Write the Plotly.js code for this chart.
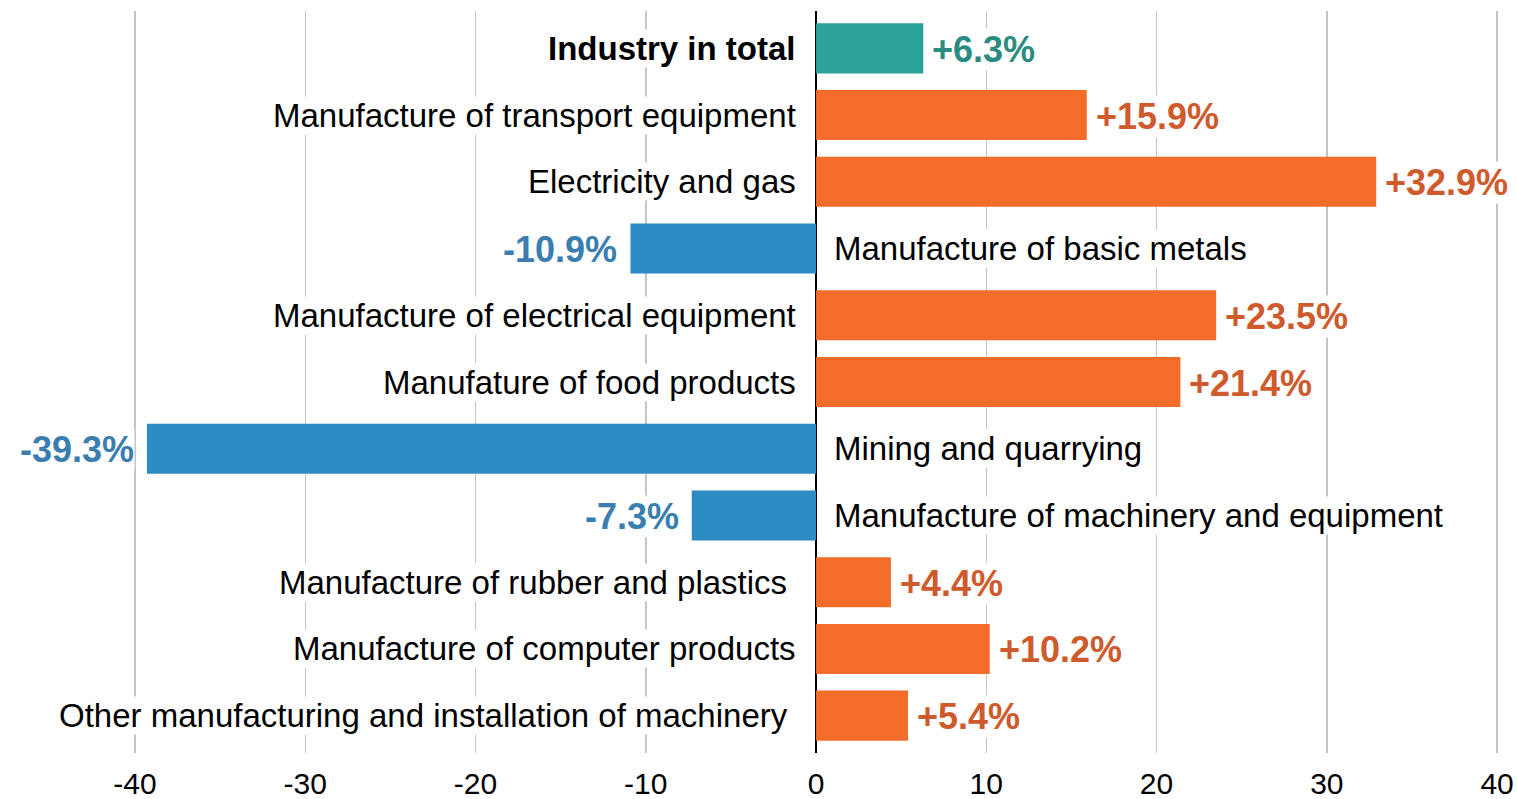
<!DOCTYPE html>
<html>
<head>
<meta charset="utf-8">
<script src="https://cdn.plot.ly/plotly-3.0.1.min.js"></script>
<style>
html,body{margin:0;padding:0;background:#fff;}
#chart{width:1517px;height:799px;}
</style>
</head>
<body>
<div id="chart"></div>
<script>
const categories = [
  "Industry in total",
  "Manufacture of transport equipment",
  "Electricity and gas",
  "Manufacture of basic metals",
  "Manufacture of electrical equipment",
  "Manufature of food products",
  "Mining and quarrying",
  "Manufacture of machinery and equipment",
  "Manufacture of rubber and plastics\u00a0",
  "Manufacture of computer products",
  "Other manufacturing and installation of machinery\u00a0"
];
const values = [6.3, 15.9, 32.9, -10.9, 23.5, 21.4, -39.3, -7.3, 4.4, 10.2, 5.4];
const valueLabels = ["+6.3%", "+15.9%", "+32.9%", "-10.9%", "+23.5%", "+21.4%", "-39.3%", "-7.3%", "+4.4%", "+10.2%", "+5.4%"];
const totalCategory = "Industry in total";
const tickValues = [-40, -30, -20, -10, 0, 10, 20, 30, 40];

const COL_TOTAL = "#2ca398", COL_POS = "#f36c29", COL_NEG = "#2d8cc3";
const TXT_TOTAL = "#2a8c7e", TXT_POS = "#cf5a2c", TXT_NEG = "#3a7eb0";

const barColors = values.map((v, i) => categories[i] === totalCategory ? COL_TOTAL : (v >= 0 ? COL_POS : COL_NEG));
const textColors = values.map((v, i) => categories[i] === totalCategory ? TXT_TOTAL : (v >= 0 ? TXT_POS : TXT_NEG));

const font = "Liberation Sans, Arial, sans-serif";
const annotations = [];
categories.forEach((c, i) => {
  const v = values[i];
  const pos = v >= 0;
  annotations.push({
    x: 0, y: c, xref: 'x', yref: 'y',
    text: categories[i] === totalCategory ? '<b>' + c + '</b>' : c,
    showarrow: false,
    xanchor: pos ? 'right' : 'left',
    xshift: pos ? -19 : 17,
    yshift: 0,
    font: {family: font, size: 33, color: '#000'},
    bgcolor: '#ffffff', borderpad: 0
  });
  annotations.push({
    x: v, y: c, xref: 'x', yref: 'y',
    text: '<b>' + valueLabels[i] + '</b>',
    showarrow: false,
    xanchor: pos ? 'left' : 'right',
    xshift: pos ? 8 : -12,
    yshift: -1,
    font: {family: font, size: 36, color: textColors[i]},
    bgcolor: '#ffffff', borderpad: 0
  });
});

const trace = {
  type: 'bar', orientation: 'h',
  x: values, y: categories,
  marker: {color: barColors, line: {width: 0}},
  hoverinfo: 'none'
};

const layout = {
  width: 1517, height: 799,
  margin: {l: 0, r: 0, t: 11, b: 46, pad: 0},
  paper_bgcolor: '#fff', plot_bgcolor: '#fff',
  bargap: 0.25,
  showlegend: false,
  xaxis: {
    range: [-47.93, 41.17],
    tickvals: tickValues,
    ticktext: tickValues.map(String),
    showgrid: true, gridcolor: '#c4c4c4', gridwidth: 1.5,
    zeroline: true, zerolinecolor: '#000', zerolinewidth: 2.5,
    showline: false, ticks: '',
    ticklabelstandoff: 10,
    tickfont: {family: font, size: 30, color: '#000'},
    fixedrange: true
  },
  yaxis: {
    type: 'category',
    categoryarray: categories, categoryorder: 'array',
    range: [10.56, -0.56],
    showticklabels: false, showgrid: false, zeroline: false, showline: false, ticks: '',
    fixedrange: true
  },
  annotations: annotations
};

Plotly.newPlot('chart', [trace], layout, {displayModeBar: false, staticPlot: true});
</script>
</body>
</html>
